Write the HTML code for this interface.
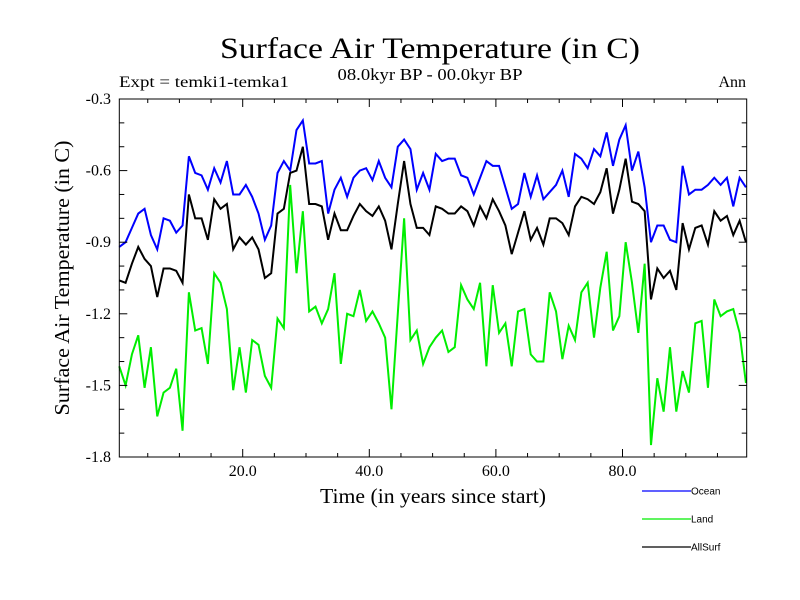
<!DOCTYPE html>
<html><head><meta charset="utf-8"><style>
html,body{margin:0;padding:0;background:#fff;width:800px;height:600px;overflow:hidden}
svg text{font-family:"Liberation Serif",serif}
</style></head><body>
<svg id="chart" width="800" height="600" viewBox="0 0 800 600" xmlns="http://www.w3.org/2000/svg">
<text x="430" y="58" font-size="30" text-anchor="middle" textLength="420" lengthAdjust="spacingAndGlyphs">Surface Air Temperature (in C)</text>
<text x="430" y="80" font-size="17" text-anchor="middle" textLength="185" lengthAdjust="spacingAndGlyphs">08.0kyr BP - 00.0kyr BP</text>
<text x="119" y="87" font-size="16" textLength="170" lengthAdjust="spacingAndGlyphs">Expt = temki1-temka1</text>
<text x="746" y="87" font-size="16" text-anchor="end">Ann</text>
<text x="0" y="0" font-size="21" text-anchor="middle" textLength="275" lengthAdjust="spacingAndGlyphs" transform="translate(69,278) rotate(-90)">Surface Air Temperature (in C)</text>
<text x="433" y="503" font-size="21" text-anchor="middle" textLength="226" lengthAdjust="spacingAndGlyphs">Time (in years since start)</text>
<g id="marks"></g>
<rect x="119.3" y="99" width="627.4" height="358" fill="none" stroke="#000" stroke-width="1"/>
<g id="ticks"></g>
<g id="legend"></g>
</svg>
<script>
const ocean = [-0.92,-0.90,-0.84,-0.78,-0.76,-0.87,-0.93,-0.80,-0.81,-0.86,-0.83,-0.54,-0.61,-0.62,-0.68,-0.59,-0.65,-0.56,-0.70,-0.70,-0.66,-0.71,-0.78,-0.89,-0.83,-0.61,
-0.56,-0.60,-0.43,-0.39,-0.57,-0.57,-0.56,-0.78,-0.68,-0.63,-0.71,-0.63,-0.60,-0.59,-0.64,-0.56,-0.63,-0.67,-0.50,-0.47,-0.51,-0.68,-0.61,-0.68,-0.53,
-0.56,-0.55,-0.55,-0.62,-0.63,-0.70,-0.63,-0.56,-0.58,-0.58,-0.67,-0.76,-0.74,-0.61,-0.71,-0.62,-0.72,-0.69,-0.66,-0.60,-0.71,-0.53,-0.55,-0.59,
-0.51,-0.54,-0.44,-0.58,-0.47,-0.41,-0.60,-0.52,-0.67,-0.90,-0.83,-0.83,-0.89,-0.90,-0.58,-0.70,-0.68,-0.68,-0.66,-0.63,-0.66,-0.63,-0.75,-0.63,-0.67];
const land = [-1.42,-1.50,-1.37,-1.29,-1.51,-1.34,-1.63,-1.53,-1.51,-1.43,-1.69,-1.11,-1.27,-1.26,-1.41,-1.03,-1.07,-1.18,-1.52,-1.34,-1.53,-1.31,-1.33,-1.46,-1.51,-1.22,
-1.26,-0.66,-1.03,-0.77,-1.19,-1.17,-1.24,-1.18,-1.03,-1.41,-1.20,-1.21,-1.10,-1.23,-1.19,-1.24,-1.30,-1.60,-1.20,-0.80,-1.31,-1.27,-1.41,-1.34,-1.30,
-1.27,-1.36,-1.34,-1.08,-1.14,-1.18,-1.07,-1.42,-1.08,-1.28,-1.24,-1.42,-1.19,-1.18,-1.37,-1.40,-1.40,-1.11,-1.19,-1.39,-1.25,-1.31,-1.11,-1.07,
-1.30,-1.09,-0.94,-1.27,-1.21,-0.90,-1.07,-1.28,-0.99,-1.75,-1.47,-1.61,-1.34,-1.61,-1.44,-1.53,-1.24,-1.23,-1.51,-1.14,-1.21,-1.19,-1.18,-1.28,-1.49];
const allSurf = [-1.06,-1.07,-0.99,-0.92,-0.97,-1.00,-1.13,-1.01,-1.01,-1.02,-1.07,-0.70,-0.80,-0.80,-0.89,-0.72,-0.76,-0.74,-0.93,-0.88,-0.91,-0.88,-0.93,-1.05,-1.03,-0.78,
-0.76,-0.61,-0.60,-0.50,-0.74,-0.74,-0.75,-0.89,-0.78,-0.85,-0.85,-0.79,-0.74,-0.77,-0.79,-0.75,-0.81,-0.93,-0.74,-0.56,-0.74,-0.84,-0.84,-0.87,-0.75,
-0.76,-0.78,-0.78,-0.75,-0.77,-0.83,-0.75,-0.80,-0.72,-0.77,-0.83,-0.95,-0.86,-0.77,-0.89,-0.84,-0.91,-0.80,-0.80,-0.82,-0.87,-0.75,-0.71,-0.72,
-0.74,-0.69,-0.59,-0.78,-0.68,-0.55,-0.73,-0.74,-0.77,-1.14,-1.01,-1.05,-1.02,-1.10,-0.82,-0.93,-0.84,-0.83,-0.91,-0.77,-0.81,-0.79,-0.87,-0.81,-0.90];
const xTickLabels = ["20.0","40.0","60.0","80.0"];
const xTickValues = [20,40,60,80];
const yTickLabels = ["-0.3","-0.6","-0.9","-1.2","-1.5","-1.8"];
const yTickValues = [-0.3,-0.6,-0.9,-1.2,-1.5,-1.8];
const seriesNames = ["Ocean","Land","AllSurf"];

const NS="http://www.w3.org/2000/svg";
const L=119.3,R=746.7,T=99,B=457;
function xs(v){return 116.1+v*6.33;}
function ys(v){return T+(-0.3-v)*(B-T)/1.5;}
function mk(tag,attrs,parent){const e=document.createElementNS(NS,tag);for(const k in attrs)e.setAttribute(k,attrs[k]);parent.appendChild(e);return e;}

const marks=document.getElementById('marks');
function drawLine(vals,color,name){
  const pts=vals.map((v,i)=>xs(i+0.5).toFixed(2)+","+ys(v).toFixed(2)).join(" ");
  const p=mk('polyline',{points:pts,fill:'none',stroke:color,'stroke-width':2,'stroke-linejoin':'miter'},marks);
  
  
}
drawLine(land,'#00ee00','land-line');
drawLine(ocean,'#0000ff','ocean-line');
drawLine(allSurf,'#000000','allsurf-line');

const ticks=document.getElementById('ticks');
for(let v=5;v<100;v+=5){
  const x=xs(v);const major=v%20===0;const len=major?8:4;
  const t1=mk('line',{x1:x,x2:x,y1:B,y2:B-len,stroke:'#000','stroke-width':1},ticks);
  
  
  const t2=mk('line',{x1:x,x2:x,y1:T,y2:T+len,stroke:'#000','stroke-width':1},ticks);
  
  
}
xTickValues.forEach((v,i)=>{
  const t=mk('text',{x:xs(v),y:B+19,'font-size':16,'text-anchor':'middle'},ticks);
  t.textContent=xTickLabels[i];
  
  
});
for(let k=0;k<=15;k++){
  const v=-0.3-k*0.1;const y=ys(v);const major=k%3===0;const len=major?8:5;
  const t1=mk('line',{x1:L,x2:L+len,y1:y,y2:y,stroke:'#000','stroke-width':1},ticks);
  
  
  const t2=mk('line',{x1:R,x2:R-len,y1:y,y2:y,stroke:'#000','stroke-width':1},ticks);
  
  
}
yTickValues.forEach((v,i)=>{
  const t=mk('text',{x:111,y:ys(v)+5,'font-size':16,'text-anchor':'end'},ticks);
  t.textContent=yTickLabels[i];
  
  
});
const legend=document.getElementById('legend');
const legColors=['#0000ff','#00ee00','#000000'];
seriesNames.forEach((n,i)=>{
  const y=491+i*28;
  const g=mk('g',{},legend);
  
  
  mk('line',{x1:642,x2:691,y1:y,y2:y,stroke:legColors[i],'stroke-width':1.2},g);
  const t=mk('text',{x:691,y:y+3.5,'font-size':10,style:'font-family:"Liberation Sans",sans-serif'},g);
  t.textContent=n;
});
</script>
</body></html>
